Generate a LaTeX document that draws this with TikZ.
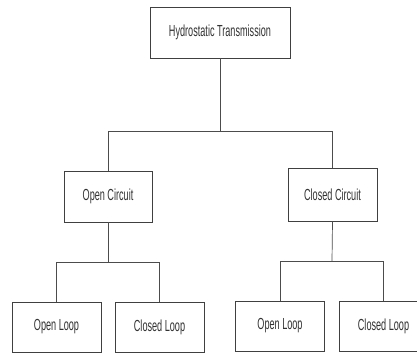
\documentclass[tikz,border=0pt]{standalone}
\usepackage{fontspec}
\newfontfamily\boxfont[FakeStretch=0.57]{Liberation Sans}
\usepackage{tikz}
\tikzset{
    block/.style={draw=black!75,line width=0.8pt,fill=white,minimum width=89pt,minimum height=50pt,inner sep=0pt,font=\boxfont\fontsize{16pt}{18pt}\selectfont,text=black!80},
    link/.style={draw=black!70,line width=0.7pt}
}

\begin{document}
\begin{tikzpicture}[x=1pt,y=-1pt]
    \useasboundingbox[fill=white] (0,0) rectangle (417,354);
    \clip (0,0) rectangle (417,354);
    %Transmission
    \node[block,minimum width=140pt,minimum height=51pt] (hyd) at (220,32.5) {Hydrostatic Transmission};
    %Circuits
    \node[block,minimum width=88pt,minimum height=51pt] (open) at (108,196.5) {Open Circuit};
    \node[block,minimum width=89pt,minimum height=53pt] (closed) at (332.5,194.5) {Closed Circuit};
    %Loops
    \node[block] (oopen) at (56.5,327) {Open Loop};
    \node[block] (oclosed) at (159.5,327) {Closed Loop};
    \node[block] (copen) at (280,326) {Open Loop};
    \node[block] (cclosed) at (383.5,326) {Closed Loop};
    %Junctions
    \coordinate (j0) at (220,131);
    \coordinate (j1) at (108,262);
    \coordinate (j2) at (332,261);
    %Lines
    \draw[link] (hyd.south) -- (j0);
    \draw[link] (j0) -| (open.north);
    \draw[link] (j0) -| (closed.north);
    \draw[link] (open.south) -- (j1);
    \draw[link] (j1) -| (oopen.north);
    \draw[link] (j1) -| (oclosed.north);
    \draw[link] (closed.south) -- (j2);
    \draw[link] (j2) -| (copen.north);
    \draw[link] (j2) -| (cclosed.north);
\end{tikzpicture}
\end{document}
